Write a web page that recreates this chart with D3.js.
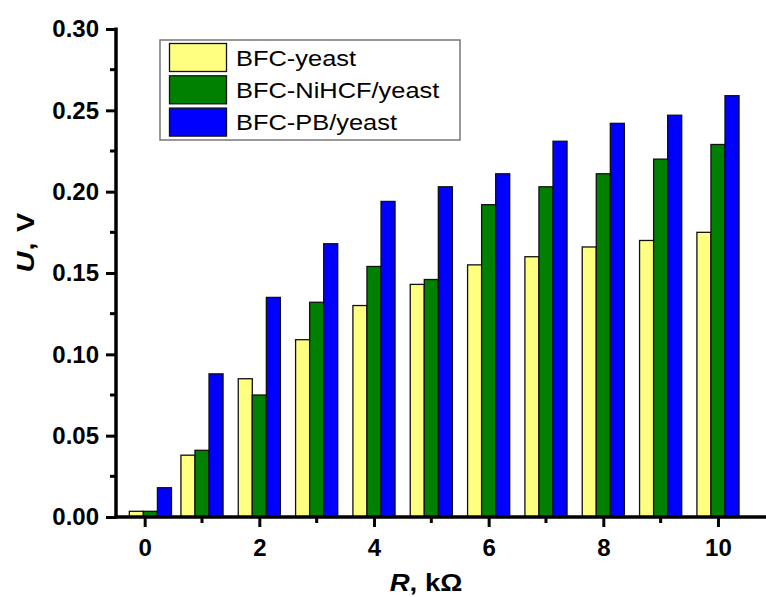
<!DOCTYPE html>
<html>
<head>
<meta charset="utf-8">
<script src="https://cdn.jsdelivr.net/npm/d3@7"></script>
<style>
  body { margin: 0; background: #fff; }
  svg text { font-family: "Liberation Sans", Arial, sans-serif; }
</style>
</head>
<body>
<svg id="chart" width="766" height="597"></svg>
<script>
// R values (kOhm) and voltages
const resistance = [0.1, 1, 2, 3, 4, 5, 6, 7, 8, 9, 10];
const seriesNames = ["BFC-yeast", "BFC-NiHCF/yeast", "BFC-PB/yeast"];
const seriesColors = ["#ffff80", "#008000", "#0000ff"];
const yeast      = [0.0035, 0.038, 0.085, 0.109, 0.130, 0.143, 0.155, 0.160, 0.166, 0.170, 0.175];
const niHcfYeast = [0.0035, 0.041, 0.075, 0.132, 0.154, 0.146, 0.192, 0.203, 0.211, 0.220, 0.229];
const pbYeast    = [0.018, 0.088, 0.135, 0.168, 0.194, 0.203, 0.211, 0.231, 0.242, 0.247, 0.259];
const xMajorTicks = [0, 2, 4, 6, 8, 10];
const xMinorTicks = [1, 3, 5, 7, 9];
const yMajorTicks = [0, 0.05, 0.10, 0.15, 0.20, 0.25, 0.30];
const yMinorTicks = [0.025, 0.075, 0.125, 0.175, 0.225, 0.275];

const series = [yeast, niHcfYeast, pbYeast];

const svg = d3.select("#chart");
const plotLeft = 116, plotBottom = 517, plotTop = 29;
const unit = 57.33; // px per kOhm

const x = d3.scaleLinear().domain([-0.5, 11]).range([plotLeft, plotLeft + 11.5 * unit]);
const y = d3.scaleLinear().domain([0, 0.30]).range([plotBottom, plotTop]);
const barW = 0.245; // bar width in kOhm units

// bars
series.forEach((vals, si) => {
    svg.append("g").selectAll("rect")
        .data(vals.map((v, i) => ({ r: resistance[i], v })))
        .enter()
        .append("rect")
        .attr("x", d => x(d.r + (si - 1.5) * barW))
        .attr("y", d => y(d.v))
        .attr("width", x(barW) - x(0))
        .attr("height", d => y(0) - y(d.v))
        .attr("fill", seriesColors[si])
        .attr("stroke", "#111")
        .attr("stroke-width", 1.3);
});

// y axis
const yAxis = svg.append("g").attr("transform", `translate(${plotLeft},0)`)
    .call(d3.axisLeft(y).tickValues(yMajorTicks).tickFormat(d3.format(".2f")).tickSize(10).tickPadding(7))
    .call(g => g.select(".domain").remove());
yAxis.selectAll("line").attr("stroke", "#000").attr("stroke-width", 3);
yAxis.selectAll("text").attr("font-size", 24).attr("font-weight", "bold").attr("fill", "#000")
    .attr("font-family", "Liberation Sans, Arial, sans-serif");
svg.append("g").selectAll("line").data(yMinorTicks).enter().append("line")
    .attr("x1", plotLeft - 6).attr("x2", plotLeft).attr("y1", d => y(d)).attr("y2", d => y(d))
    .attr("stroke", "#000").attr("stroke-width", 3);

// x axis
const xAxis = svg.append("g").attr("transform", `translate(0,${plotBottom})`)
    .call(d3.axisBottom(x).tickValues(xMajorTicks).tickSize(10).tickPadding(12))
    .call(g => g.select(".domain").remove());
xAxis.selectAll("line").attr("stroke", "#000").attr("stroke-width", 3);
xAxis.selectAll("text").attr("font-size", 24).attr("font-weight", "bold").attr("fill", "#000")
    .attr("font-family", "Liberation Sans, Arial, sans-serif");
svg.append("g").selectAll("line").data(xMinorTicks).enter().append("line")
    .attr("x1", d => x(d)).attr("x2", d => x(d)).attr("y1", plotBottom).attr("y2", plotBottom + 6)
    .attr("stroke", "#000").attr("stroke-width", 3);

// axis lines
svg.append("line").attr("x1", plotLeft).attr("x2", plotLeft).attr("y1", plotTop - 1.5).attr("y2", plotBottom + 1.5)
    .attr("stroke", "#000").attr("stroke-width", 3.5);
svg.append("line").attr("x1", plotLeft - 1.5).attr("x2", 766).attr("y1", plotBottom).attr("y2", plotBottom)
    .attr("stroke", "#000").attr("stroke-width", 3.5);

// axis titles
const yTitle = svg.append("text")
    .attr("transform", "translate(34,242) rotate(-90) scale(1.2,1)")
    .attr("text-anchor", "middle").attr("font-size", 24).attr("font-weight", "bold")
    .attr("letter-spacing", 1);
yTitle.append("tspan").attr("font-style", "italic").text("U");
yTitle.append("tspan").text(", V");

const xTitle = svg.append("text")
    .attr("transform", "translate(426,591) scale(1.15,1)")
    .attr("text-anchor", "middle").attr("font-size", 24).attr("font-weight", "bold");
xTitle.append("tspan").attr("font-style", "italic").text("R");
xTitle.append("tspan").text(", k\u03A9");

// legend
const legend = svg.append("g");
legend.append("rect").attr("x", 160).attr("y", 40).attr("width", 300).attr("height", 100)
    .attr("fill", "#fff").attr("stroke", "#777").attr("stroke-width", 1.5);
seriesNames.forEach((name, i) => {
    const cy = 57.5 + i * 32.3;
    legend.append("rect").attr("x", 169.5).attr("y", cy - 14).attr("width", 57).attr("height", 28)
        .attr("fill", seriesColors[i]).attr("stroke", "#111").attr("stroke-width", 1.3);
    legend.append("text")
        .attr("transform", `translate(236,${cy + 8}) scale(1.13,1)`)
        .attr("font-size", 22.5).attr("fill", "#000").text(name);
});
</script>
</body>
</html>
